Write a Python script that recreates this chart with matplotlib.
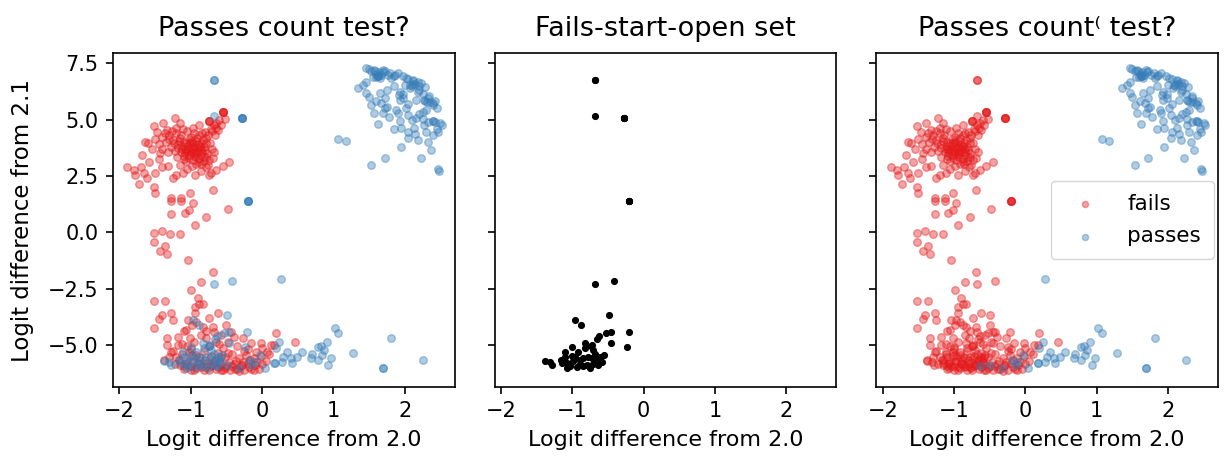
import matplotlib
matplotlib.use("Agg")
import matplotlib.pyplot as plt
import numpy as np

# ---------------- data ----------------
titles = ["Passes count test?", "Fails-start-open set", "Passes count\u207d test?"]
xlabel = "Logit difference from 2.0"
ylabel = "Logit difference from 2.1"
legend_labels = ["fails", "passes"]

# points that fail in both tests
fails_x = [
    -1.30, -1.25, -1.20, -1.18, -1.15, -1.12, -1.10, -1.08, -1.05, -1.03, -1.00, -0.98, -0.96, -0.95, -0.93,
    -0.90, -0.88, -0.87, -0.85, -0.83, -0.82, -0.80, -0.78, -0.76, -0.92, -1.02, -1.10, -1.22, -1.28, -1.35,
    -1.40, -1.33, -1.20, -1.05, -0.95, -0.88, -0.80, -0.72, -0.68, -0.64, -0.60, -0.70, -0.78, -0.73, -0.70,
    -0.98, -1.15, -1.40, -1.45, -1.50, -1.07, -1.00, -0.95, -1.12, -0.90, -0.85, -1.03, -0.97, -0.88, -0.93,
    -1.06, -1.16, -0.99, -0.86, -0.82, -0.91, -1.08, -1.00, -0.95, -1.04,
    -1.18, -1.13, -1.09, -1.01, -0.97, -0.93, -0.89, -0.84, -0.81, -0.77, -0.74, -1.14, -1.24, -1.31, -1.36,
    -1.26, -1.11, -0.98, -0.91, -0.84, -0.76, -0.66, -0.62, -0.58, -0.65, -0.52, -0.86, -0.79, -1.06, -1.19,
    -1.32, -1.55, -1.47, -1.43, -1.60, -1.70, -1.65, -1.40, -1.05, -0.85,
    -1.89, -1.80, -1.78, -1.73, -1.62, -1.50, -1.52, -1.50, -1.68, -1.64, -1.52, -1.39, -1.22, -1.15, -0.97,
    -0.88, -0.78, -0.67, -0.69, -0.46, -0.55, -0.64, -0.74, -0.69, -1.01, -1.13, -1.27, -1.25, -1.20, -1.11,
    -0.94, -1.27, -1.13, -0.97, -1.02, -1.08, -1.27, -0.94, -0.78, -0.48, -0.71, -1.52, -1.41, -1.29, -1.15,
    -1.52, -1.43, -1.36, -1.34, -1.04, -0.69, -0.85, -0.99, -1.45, -1.32, -1.58,
    -0.55, -0.55, -0.55, -0.55, -0.75, -0.75, -0.75,
    -1.52, -1.36, -1.41, -1.44, -1.27, -1.25, -1.52, -1.34, -1.18, -1.34, -1.27, -0.90, -0.88, -0.94, -0.83,
    -0.94, -1.04, -1.06, -0.92, -0.74, -0.62, -0.69, -0.83, -1.01, -0.79, -0.50, -0.43, -0.57, -0.64, -0.48,
    -0.27, -0.16, -0.02, 0.19, 0.17, 0.46, 0.07,
    -1.20, -1.15, -1.10, -1.05, -1.00, -0.95, -0.90, -0.85, -0.80, -0.75, -0.70, -0.65, -0.60, -0.55, -0.50,
    -0.45, -0.40, -0.35, -0.30, -0.25, -0.20, -0.15, -0.10, -0.05, 0.00, 0.05, -1.12, -1.02, -0.92, -0.82,
    -0.72, -0.62, -0.52, -0.42, -0.32, -0.22, -0.12, -0.02, -0.97, -0.87, -0.77, -0.67, -0.57, -0.47, -0.37,
    -0.27, -0.17, -0.07, -1.07, -0.62, -0.82, -0.52, -0.42, -0.32, -0.12, -0.72, -0.92, -1.17, 0.10, 0.12,
    -1.05, -0.95, -0.75, -0.55, -0.35, -0.25, -0.85, -0.68, -1.12, -1.00,
    -1.38, -1.30, -1.22, -1.25, -1.18, -1.10, -0.98, -0.78, -0.60, -0.40, -0.20, -0.08, 0.00, -0.58, -0.48,
    -0.88, -0.98, -0.78, -0.68, -0.58, -0.38, -0.28, -0.18, -1.00, -1.10,
]
fails_y = [
    4.30, 4.10, 4.40, 3.90, 4.20, 3.70, 4.00, 3.50, 3.85, 4.15, 3.60, 3.95, 3.40, 3.75, 4.05,
    3.55, 3.25, 3.85, 3.45, 4.10, 3.15, 3.65, 3.35, 3.00, 3.05, 3.30, 3.25, 3.60, 3.80, 4.00,
    4.25, 4.55, 4.65, 4.50, 4.40, 4.30, 4.45, 4.60, 4.75, 4.85, 5.00, 4.50, 4.20, 3.95, 3.70,
    2.95, 3.00, 3.70, 3.90, 4.15, 3.62, 3.78, 3.55, 3.85, 3.90, 3.70, 3.45, 3.20, 3.10, 3.35,
    3.95, 4.05, 4.25, 3.95, 3.80, 3.62, 3.70, 3.50, 3.85, 3.65,
    3.75, 3.55, 3.40, 3.95, 3.68, 3.48, 3.75, 3.58, 3.35, 3.50, 3.20, 4.32, 3.95, 4.15, 4.40,
    4.50, 4.60, 4.05, 4.20, 4.40, 4.30, 4.30, 4.55, 4.75, 4.65, 5.05, 3.05, 2.90, 3.15, 3.35,
    3.55, 3.70, 4.45, 3.50, 3.95, 2.90, 2.65, 2.90, 2.80, 2.70,
    2.90, 2.77, 2.55, 2.15, 2.40, 2.62, 2.03, 1.73, 3.43, 4.03, 4.70, 4.86, 5.07, 4.86, 4.63,
    4.77, 3.95, 3.58, 3.29, 3.14, 2.95, 2.77, 2.55, 1.88, 1.73, 1.51, 1.51, 2.40, 2.55, 2.65,
    2.55, 1.41, 1.41, 1.32, 0.99, 0.87, 0.81, 0.32, 0.67, 1.02, 2.62, -0.04, 0.07, -0.08, -0.08,
    -0.42, -0.82, -0.61, -0.98, -1.23, -1.78, -2.22, -2.56, 3.25, 2.95, 3.10,
    5.32, 5.32, 5.32, 5.32, 4.95, 4.95, 4.95,
    -3.04, -3.04, -3.68, -3.87, -3.60, -3.90, -4.27, -4.71, -4.64, -5.01, -5.31, -2.93, -3.19, -3.31, -3.19,
    -3.60, -3.90, -4.34, -3.97, -3.82, -3.60, -4.20, -4.20, -4.71, -4.71, -4.12, -4.42, -4.56, -4.86, -4.86,
    -4.71, -4.93, -4.93, -4.49, -5.01, -4.86, -5.31,
    -5.55, -5.90, -6.05, -5.70, -5.95, -6.10, -5.80, -6.00, -5.65, -6.10, -5.90, -6.05, -5.75, -6.10, -5.95,
    -6.12, -5.85, -6.05, -5.95, -6.10, -5.80, -6.05, -5.90, -6.08, -5.85, -5.70, -5.40, -5.30, -5.45, -5.25,
    -5.50, -5.35, -5.55, -5.40, -5.60, -5.45, -5.60, -5.50, -5.75, -5.85, -5.80, -5.70, -5.90, -5.75, -5.70,
    -5.78, -5.65, -5.75, -5.85, -6.00, -6.12, -6.02, -5.95, -6.15, -6.12, -5.95, -6.02, -5.65, -5.40, -5.00,
    -5.05, -4.85, -5.05, -5.15, -5.05, -5.25, -4.55, -4.45, -4.95, -5.20,
    -5.65, -5.55, -5.85, -5.25, -5.00, -4.40, -4.10, -4.40, -4.95, -4.65, -5.20, -5.30, -5.15, -5.55, -5.35,
    -5.55, -5.45, -5.98, -5.82, -6.12, -6.08, -5.88, -5.98, -6.10, -5.95,
]

# points that pass in both tests
passes_x = [
    1.46, 1.53, 1.60, 1.69, 1.76, 1.81, 1.65, 1.46, 1.90, 2.05, 2.23, 2.07, 2.18, 1.93, 1.46,
    1.35, 1.65, 1.67, 1.53, 1.93, 2.16, 2.27, 2.39, 1.57, 1.69, 1.90, 2.04, 2.16, 2.39, 2.50,
    2.27, 1.93, 1.95, 2.13, 2.46, 2.04, 2.18, 2.32, 1.95, 2.37, 2.23, 1.53, 2.46, 2.48, 1.07,
    1.17, 1.62, 1.70, 1.58, 1.55, 2.00, 2.10, 2.15, 2.20, 2.12, 1.85, 1.92, 1.98, 2.35, 2.42,
    2.33, 1.63, 1.59, 1.66, 1.62, 2.08, 2.11, 2.28, 2.31, 2.40, 2.42, 1.75, 1.72, 2.02, 2.25,
    1.50, 1.57, 1.64, 1.72, 1.80, 1.86, 1.97, 2.02, 2.12, 2.18, 2.28, 2.20, 2.25, 2.34, 2.40,
    2.45, 2.30, 2.20, 2.10, 2.26, 2.33, 2.45, 2.52, 2.40, 2.30, 2.15, 2.05, 1.85, 1.78, 1.72,
    1.60, 1.50, 1.42, 1.75, 1.85, 1.98, 2.05, 1.88, 1.62, 1.72,
    0.27, 1.02, 1.07, 0.91, 0.78, 0.84, 0.68, 0.78, 0.93, 1.28, 1.81, 1.69, 1.69, 2.25, 0.35,
    0.42, 0.28, 0.49, 0.17, 0.24, 0.19, 0.56, 0.70, 0.82, 0.87, 0.97, 0.40,
    -0.63, -0.49, -0.33, -0.19, -0.15, -0.03, 0.04, 0.18, 0.30, -0.10,
]
passes_y = [
    7.29, 7.18, 7.04, 7.21, 6.99, 6.84, 6.84, 6.69, 7.07, 6.80, 6.62, 6.40, 6.25, 6.25, 6.20,
    6.40, 6.18, 5.73, 5.66, 5.88, 5.88, 5.88, 5.73, 5.29, 5.29, 5.29, 5.21, 5.07, 4.92, 4.84,
    4.77, 4.92, 4.62, 4.62, 4.47, 4.18, 4.10, 4.03, 3.80, 3.66, 3.29, 2.99, 2.80, 2.74, 4.13,
    4.07, 6.95, 7.10, 7.15, 6.90, 6.55, 6.50, 6.60, 6.48, 6.70, 6.95, 6.10, 5.95, 5.80, 5.85,
    5.95, 6.92, 6.88, 6.97, 6.93, 6.52, 6.58, 5.82, 5.78, 4.95, 4.88, 5.55, 5.95, 5.50, 5.35,
    7.25, 7.22, 7.12, 7.18, 7.05, 7.00, 6.92, 6.85, 6.75, 6.68, 6.45, 6.30, 6.15, 6.05, 5.65,
    5.50, 5.45, 5.25, 5.00, 5.05, 4.90, 4.60, 4.75, 4.30, 4.45, 4.35, 4.45, 4.60, 5.10, 5.50,
    5.85, 6.00, 6.55, 6.30, 6.50, 6.15, 5.70, 5.45, 4.80, 3.30,
    -2.06, -4.27, -4.49, -4.86, -5.08, -5.45, -5.60, -5.68, -5.90, -5.38, -4.71, -6.04, -6.04, -5.68, -5.31,
    -5.82, -5.75, -5.53, -5.82, -4.86, -5.16, -5.31, -5.40, -5.04, -5.23, -5.60, -5.60,
    -5.94, -5.91, -6.04, -5.68, -5.90, -5.45, -6.04, -5.82, -5.55, -5.75,
]

# fails-start-open set: passes first test, fails second test
open_x = [
    -0.68, -0.68, -0.68, -0.28, -0.28, -0.28, -0.28, -0.20, -0.20, -0.20, -0.20,
    -0.68, -0.42, -0.49, -0.97, -0.88, -0.21, -0.46, -0.53, -0.63, -0.66, -0.83, -0.46, -0.24, -0.74,
    -1.00, -0.71, -0.92, -1.11, -0.56, -0.78, -0.85, -1.01, -1.16, -1.38, -1.31, -1.28, -1.07, -1.07,
    -0.94, -0.80, -0.71, -0.64, -0.59, -0.66, -0.73, -0.89, -0.96, -1.10, -1.15, -0.73, -0.82, -0.62,
    -0.99, -0.85, -0.76, -0.90, -0.68, -1.04, -0.61,
]
open_y = [
    6.77, 6.77, 5.15, 5.07, 5.07, 5.07, 5.07, 1.40, 1.40, 1.40, 1.40,
    -2.28, -2.15, -3.68, -3.90, -4.13, -4.42, -4.42, -4.46, -4.61, -4.76, -4.90, -4.93, -5.08, -5.05,
    -5.08, -5.23, -5.30, -5.30, -5.45, -5.53, -5.60, -5.50, -5.68, -5.72, -5.76, -5.90, -5.82, -6.04,
    -5.97, -5.90, -5.85, -5.90, -5.75, -5.68, -5.60, -5.68, -5.53, -5.56, -5.82, -5.01, -5.16, -5.53,
    -5.72, -5.95, -6.02, -5.85, -5.40, -5.95, -5.62,
]

# ---------------- style ----------------
RED = "#e41a1c"
BLUE = "#377eb8"
plt.rcParams["font.family"] = ["DejaVu Sans"]
plt.rcParams["font.size"] = 15
plt.rcParams["axes.linewidth"] = 1.2
plt.rcParams["xtick.major.width"] = 1.2
plt.rcParams["ytick.major.width"] = 1.2
plt.rcParams["xtick.major.size"] = 5.2
plt.rcParams["ytick.major.size"] = 5.2
plt.rcParams["xtick.major.pad"] = 5
plt.rcParams["ytick.major.pad"] = 5
plt.rcParams["xtick.labelsize"] = 15
plt.rcParams["ytick.labelsize"] = 15

fig, axes = plt.subplots(1, 3, figsize=(12.25, 4.57), dpi=100, sharex=True, sharey=True)
fig.subplots_adjust(left=113 / 1225, right=1218 / 1225, bottom=1 - 387 / 457, top=1 - 53 / 457,
                    wspace=40 / 342)

S = 30
A = 0.4
ax1, ax2, ax3 = axes

# panel 1: open set counts as passing
ax1.scatter(fails_x, fails_y, s=S, color=RED, alpha=A, label=legend_labels[0])
ax1.scatter(passes_x + open_x, passes_y + open_y, s=S, color=BLUE, alpha=A, label=legend_labels[1])

# panel 2: open set only
ax2.scatter(open_x, open_y, s=17, color="black")

# panel 3: open set counts as failing
ax3.scatter(fails_x + open_x, fails_y + open_y, s=S, color=RED, alpha=A, label=legend_labels[0])
ax3.scatter(passes_x, passes_y, s=S, color=BLUE, alpha=A, label=legend_labels[1])

for ax, t in zip(axes, titles):
    ax.set_title(t, fontsize=19.5, pad=12)
    ax.set_xlabel(xlabel, fontsize=16, labelpad=6)
    ax.set_xlim(-2.09, 2.70)
    ax.set_ylim(-6.87, 7.96)
    ax.set_xticks([-2, -1, 0, 1, 2])
    ax.set_yticks([-5.0, -2.5, 0.0, 2.5, 5.0, 7.5])
    ax.tick_params(labelbottom=True)
ax1.set_ylabel(ylabel, fontsize=16.5, labelpad=10)

leg = ax3.legend(loc="center right", markerscale=0.8, handletextpad=0.95, borderpad=0.6,
                 labelspacing=0.6, borderaxespad=0.2, fontsize=15.5)

fig.savefig("out.png", dpi=100)
